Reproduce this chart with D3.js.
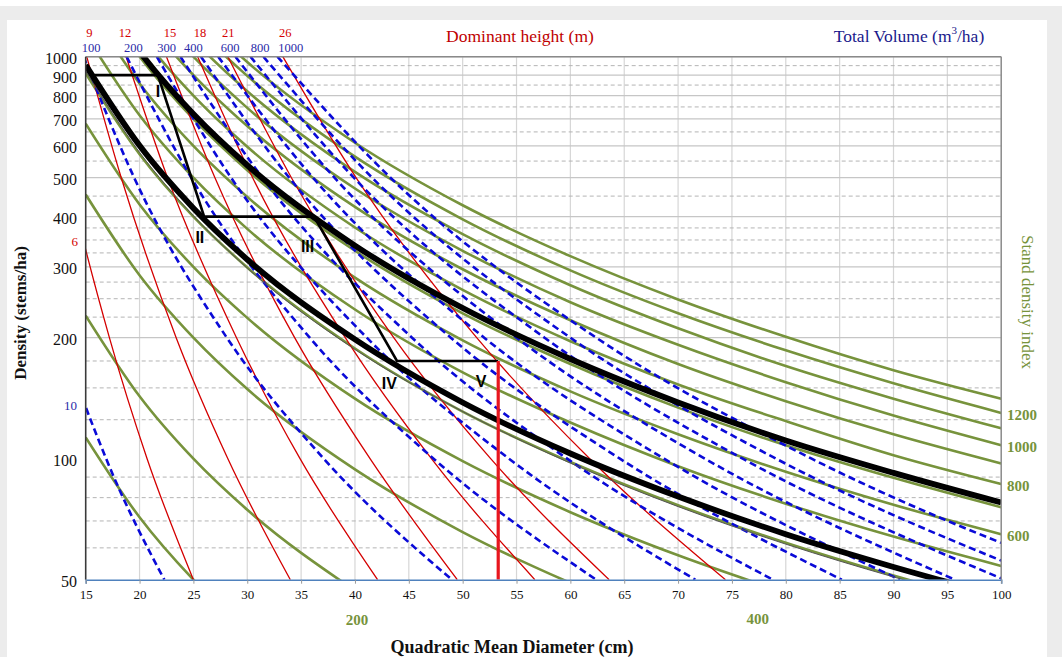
<!DOCTYPE html>
<html>
<head>
<meta charset="utf-8">
<script src="https://cdn.jsdelivr.net/npm/d3@7"></script>
<style>
  html, body { margin: 0; padding: 0; background: #fff; }
  svg { display: block; font-family: "Liberation Serif", "Times New Roman", serif; }
</style>
</head>
<body>
<div class="viz"></div>
<script>
// axis ticks
const xTicks = [15, 20, 25, 30, 35, 40, 45, 50, 55, 60, 65, 70, 75, 80, 85, 90, 95, 100];
const yTicks = [1000, 900, 800, 700, 600, 500, 400, 300, 200, 100, 50];
const yMajorGrid = [1000, 900, 800, 700, 600, 500, 400, 300, 200];
const yMinorGrid = [950, 850, 750, 650, 550, 450, 375, 350, 325, 275, 250, 225, 175, 150, 125, 90, 80, 70, 60];

// stand density index isolines (green), N read at these diameters
const sdiD = [15, 20, 25, 30, 40, 50, 60, 70, 80, 90, 100];
const sdiLevels = [50, 100, 200, 300, 400, 500, 600, 700, 800, 900, 1000, 1100, 1200, 1300];
const sdiN = [
  [113, 71.5, 50, 37.3, null, null, null, null, null, null, null],
  [227, 143, 100, 74.6, 47.0, null, null, null, null, null, null],
  [454, 286, 200, 149, 94.1, 65.7, 49.1, 38.3, null, null, null],
  [681, 429, 300, 224, 141, 98.6, 73.6, 57.5, 46.4, null, null],
  [908, 572, 400, 299, 188, 131, 98.1, 76.6, 61.8, 51.2, 43.2],
  [1135, 715, 500, 373, 235, 164, 123, 95.8, 77.3, 64.0, 54.1],
  [1362, 858, 600, 448, 282, 197, 147, 115, 92.8, 76.8, 64.9],
  [1589, 1001, 700, 522, 329, 230, 172, 134, 108, 89.6, 75.7],
  [1816, 1144, 800, 597, 376, 263, 196, 153, 124, 102, 86.5],
  [2043, 1287, 900, 672, 423, 296, 221, 172, 139, 115, 97.3],
  [2270, 1431, 1000, 746, 470, 329, 245, 192, 155, 128, 108],
  [2497, 1574, 1100, 821, 517, 362, 270, 211, 170, 141, 119],
  [2724, 1717, 1200, 896, 564, 394, 294, 230, 186, 154, 130],
  [2951, 1860, 1300, 970, 611, 427, 319, 249, 201, 166, 141]
];
const sdiRightLabels = ['1200', '1000', '800', '600'];
const sdiRightN = [130, 108, 86.5, 64.9];
const sdiBottomLabels = ['200', '400'];
const sdiBottomD = [40.2, 77.4];

// management limits (black), same diameters as sdiD
const upperLimitN = [1634, 1030, 720, 537, 339, 237, 177, 138, 111, 92.2, 77.8];
const lowerLimitN = [953, 601, 420, 313, 198, 138, 103, 80.5, 64.9, 53.8, 45.4];
const closureN = [920, 578, 402, 298, 187, 131, 97.5, 76, 61.3, 50.8, 43];

// dominant height isolines (red): D read at these densities
const heightN = [1000, 500, 200, 100, 50];
const heightLevels = [6, 9, 12, 15, 18, 21, 26];
const heightD = [
  [11.1, 13.4, 17.2, 20.7, 25.0],
  [15.1, 18.3, 23.4, 28.2, 34.0],
  [18.75, 22.6, 29.0, 34.9, 42.1],
  [22.5, 27.0, 34.4, 41.4, 49.5],
  [25.4, 30.5, 39.1, 47.1, 56.7],
  [28.2, 34.1, 43.6, 52.6, 63.6],
  [33.3, 40.1, 51.3, 61.8, 74.4]
];
const heightTopLabels = ['9', '12', '15', '18', '21', '26'];
const heightTopD = [15.33, 18.65, 22.83, 25.61, 28.24, 33.53];

// total volume isolines (blue dashed)
const volumeN = [1000, 500, 200, 100, 50];
const volumeLevels = [10, 100, 200, 300, 400, 500, 600, 700, 800, 900, 1000];
const volumeD = [
  [6.73, 8.88, 12.8, 16.9, 22.3],
  [14.8, 19.5, 28.1, 37.1, 49.0],
  [18.8, 24.8, 35.8, 47.3, 62.4],
  [21.6, 28.5, 41.1, 54.3, 71.6],
  [23.8, 31.4, 45.3, 59.7, 78.8],
  [25.7, 33.9, 48.9, 64.6, 85.2],
  [27.3, 36.1, 52.0, 68.7, 90.6],
  [28.9, 38.1, 55.0, 72.5, 95.7],
  [30.3, 39.9, 57.6, 76.0, 100.3],
  [31.5, 41.6, 60.0, 79.1, 104.4],
  [32.8, 43.3, 62.4, 82.4, 108.7]
];
const volumeTopLabels = ['100', '200', '300', '400', '600', '800', '1000'];
const volumeTopD = [15.5, 19.42, 22.52, 25.0, 28.4, 31.2, 34.03];

// thinning schedule
const pathD = [15.8, 21.7, 26.0, 36.2, 43.9, 53.3];
const pathN = [900, 900, 400, 400, 175, 175];
const cutD = [53.3, 53.3];
const cutN = [175, 50];
const romanText = ['I', 'II', 'III', 'IV', 'V'];
const romanD = [21.7, 25.6, 35.6, 43.2, 51.7];
const romanN = [817, 356, 338, 154, 156];

const W = 1062, H = 657;
const green = '#77933c', red = '#d40000', blue = '#0a0ad8';

const svg = d3.select('.viz').append('svg').attr('width', W).attr('height', H);

svg.append('rect').attr('width', W).attr('height', H).attr('fill', '#ececec');
svg.append('rect').attr('width', W).attr('height', 6).attr('fill', '#fff');
svg.append('rect').attr('x', 7).attr('y', 20).attr('width', 1040).attr('height', H - 20).attr('fill', '#fff');

const x = d3.scaleLinear().domain([15, 100]).range([85.7, 1001.2]);
const y = d3.scaleLog().domain([50, 1000]).range([579.7, 56.7]);

svg.append('defs').append('clipPath').attr('id', 'plotClip')
  .append('rect')
  .attr('x', x(15)).attr('y', y(1000))
  .attr('width', x(100) - x(15)).attr('height', y(50) - y(1000));

// grid
const grid = svg.append('g');
grid.selectAll('.vg').data(xTicks.slice(1, -1)).enter().append('line')
  .attr('x1', d => x(d)).attr('x2', d => x(d))
  .attr('y1', y(1000)).attr('y2', y(50))
  .attr('stroke', '#d6d6d6').attr('stroke-width', 1.2);
grid.selectAll('.hg').data(yMajorGrid).enter().append('line')
  .attr('x1', x(15)).attr('x2', x(100))
  .attr('y1', d => y(d)).attr('y2', d => y(d))
  .attr('stroke', '#c6c6c6').attr('stroke-width', 1.3);
grid.selectAll('.mg').data(yMinorGrid).enter().append('line')
  .attr('x1', x(15)).attr('x2', x(100))
  .attr('y1', d => y(d)).attr('y2', d => y(d))
  .attr('stroke', '#b4b4b4').attr('stroke-width', 1)
  .attr('stroke-dasharray', '4,3');

const plot = svg.append('g').attr('clip-path', 'url(#plotClip)');

const lineDN = d3.line()
  .defined(d => d[1] != null)
  .x(d => x(d[0])).y(d => y(d[1]))
  .curve(d3.curveMonotoneX);

// green SDI lines
plot.selectAll('.sdi').data(sdiN).enter().append('path')
  .attr('d', row => lineDN(row.map((n, i) => [sdiD[i], n])))
  .attr('fill', 'none').attr('stroke', green).attr('stroke-width', 2.6);

// red dominant height lines
plot.selectAll('.hgt').data(heightD).enter().append('path')
  .attr('d', row => lineDN(row.map((dd, i) => [dd, heightN[i]])))
  .attr('fill', 'none').attr('stroke', red).attr('stroke-width', 1.3);

// blue volume lines
plot.selectAll('.vol').data(volumeD).enter().append('path')
  .attr('d', row => lineDN(row.map((dd, i) => [dd, volumeN[i]])))
  .attr('fill', 'none').attr('stroke', blue).attr('stroke-width', 2.6)
  .attr('stroke-dasharray', '7,4');

// black limits
plot.append('path')
  .attr('d', lineDN(closureN.map((n, i) => [sdiD[i], n])))
  .attr('fill', 'none').attr('stroke', '#555').attr('stroke-width', 1);
[upperLimitN, lowerLimitN].forEach(arr => {
  plot.append('path')
    .attr('d', lineDN(arr.map((n, i) => [sdiD[i], n])))
    .attr('fill', 'none').attr('stroke', '#000').attr('stroke-width', 5.8);
});

// thinning path
plot.append('path')
  .attr('d', d3.line().x(d => x(d[0])).y(d => y(d[1]))(pathD.map((dd, i) => [dd, pathN[i]])))
  .attr('fill', 'none').attr('stroke', '#000').attr('stroke-width', 2.6);
plot.append('path')
  .attr('d', d3.line().x(d => x(d[0])).y(d => y(d[1]))(cutD.map((dd, i) => [dd, cutN[i]])))
  .attr('fill', 'none').attr('stroke', '#e8161e').attr('stroke-width', 3.2);

svg.selectAll('.roman').data(romanText).enter().append('text')
  .attr('x', (d, i) => x(romanD[i])).attr('y', (d, i) => y(romanN[i]))
  .attr('text-anchor', 'middle').attr('dominant-baseline', 'central')
  .style('font-family', '"Liberation Sans", Arial, sans-serif')
  .style('font-weight', 'bold').style('font-size', '16px')
  .text(d => d);

// frame
svg.append('line').attr('x1', x(15)).attr('x2', x(100)).attr('y1', y(1000)).attr('y2', y(1000))
  .attr('stroke', '#8a8a8a').attr('stroke-width', 1.5);
svg.append('line').attr('x1', x(100)).attr('x2', x(100)).attr('y1', y(1000)).attr('y2', y(50))
  .attr('stroke', '#8a8a8a').attr('stroke-width', 1.5);
svg.append('line').attr('x1', x(15)).attr('x2', x(15)).attr('y1', y(1000)).attr('y2', y(50))
  .attr('stroke', '#3a3a3a').attr('stroke-width', 1.6);

// bottom axis
const xAxis = svg.append('g').attr('transform', 'translate(0,' + y(50) + ')')
  .call(d3.axisBottom(x).tickValues(xTicks).tickSize(4).tickPadding(6));
xAxis.select('.domain').attr('stroke', '#4f81bd').attr('stroke-width', 1.6);
xAxis.selectAll('.tick line').attr('stroke', '#999');
xAxis.selectAll('.tick text')
  .style('font-family', '"Liberation Serif", serif').style('font-size', '13px').attr('fill', '#111');

// left labels
svg.selectAll('.yl').data(yTicks).enter().append('text')
  .attr('x', 77).attr('y', d => y(d) + 2)
  .attr('text-anchor', 'end').attr('dominant-baseline', 'central')
  .style('font-size', '16px').attr('fill', '#111')
  .text(d => d);
svg.append('text').attr('x', 78).attr('y', y(346))
  .attr('text-anchor', 'end').attr('dominant-baseline', 'central')
  .style('font-size', '13px').attr('fill', red).text(heightLevels[0]);
svg.append('text').attr('x', 77).attr('y', y(136))
  .attr('text-anchor', 'end').attr('dominant-baseline', 'central')
  .style('font-size', '13px').attr('fill', '#2a2aa8').text(volumeLevels[0]);

// top labels
svg.selectAll('.htl').data(heightTopLabels).enter().append('text')
  .attr('x', (d, i) => x(heightTopD[i])).attr('y', 33)
  .attr('text-anchor', 'middle').attr('dominant-baseline', 'central')
  .style('font-size', '12.5px').attr('fill', red).text(d => d);
svg.selectAll('.vtl').data(volumeTopLabels).enter().append('text')
  .attr('x', (d, i) => x(volumeTopD[i])).attr('y', 47.5)
  .attr('text-anchor', 'middle').attr('dominant-baseline', 'central')
  .style('font-size', '12.5px').attr('fill', '#2a2aa8').text(d => d);

// SDI labels
svg.selectAll('.srl').data(sdiRightLabels).enter().append('text')
  .attr('x', 1007).attr('y', (d, i) => y(sdiRightN[i]) + 2)
  .attr('dominant-baseline', 'central')
  .style('font-size', '15px').style('font-weight', 'bold').attr('fill', green).text(d => d);
svg.selectAll('.sbl').data(sdiBottomLabels).enter().append('text')
  .attr('x', (d, i) => x(sdiBottomD[i])).attr('y', (d, i) => 620 - i)
  .attr('text-anchor', 'middle').attr('dominant-baseline', 'central')
  .style('font-size', '15px').style('font-weight', 'bold').attr('fill', green).text(d => d);

// titles
svg.append('text').attr('x', 520).attr('y', 36)
  .attr('text-anchor', 'middle').attr('dominant-baseline', 'central')
  .style('font-size', '17.5px').attr('fill', '#c00000').text('Dominant height (m)');
const tv = svg.append('text').attr('x', 909).attr('y', 36)
  .attr('text-anchor', 'middle').attr('dominant-baseline', 'central')
  .style('font-size', '17.5px').attr('fill', '#1a1a8c');
tv.append('tspan').text('Total Volume (m');
tv.append('tspan').attr('baseline-shift', 'super').style('font-size', '11px').text('3');
tv.append('tspan').text('/ha)');

svg.append('text').attr('x', 512).attr('y', 647)
  .attr('text-anchor', 'middle').attr('dominant-baseline', 'central')
  .style('font-size', '18px').style('font-weight', 'bold').attr('fill', '#111')
  .text('Quadratic Mean Diameter (cm)');
svg.append('text')
  .attr('transform', 'translate(20,313) rotate(-90)')
  .attr('text-anchor', 'middle').attr('dominant-baseline', 'central')
  .style('font-size', '17px').style('font-weight', 'bold').attr('fill', '#111')
  .text('Density (stems/ha)');
svg.append('text')
  .attr('transform', 'translate(1027,302) rotate(90)')
  .attr('text-anchor', 'middle').attr('dominant-baseline', 'central')
  .style('font-size', '17px').attr('fill', green)
  .text('Stand density index');
</script>
</body>
</html>
